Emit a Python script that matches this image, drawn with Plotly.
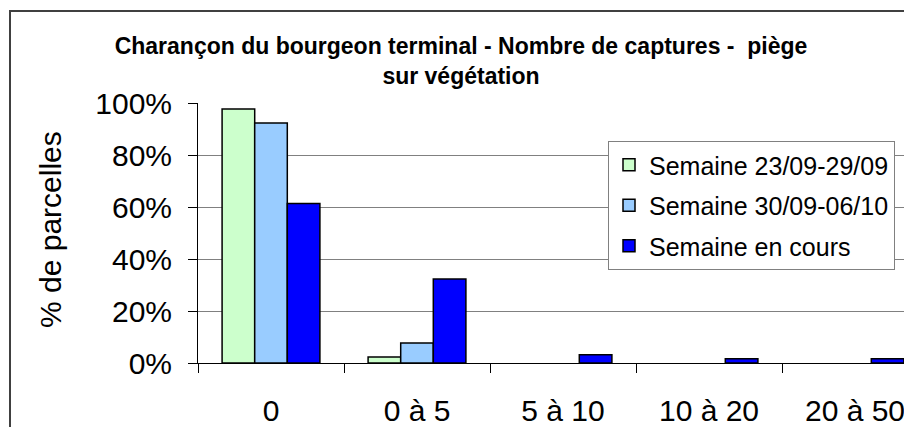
import plotly.graph_objects as go

categories = ["0", "0 à 5", "5 à 10", "10 à 20", "20 à 50"]
series_names = ["Semaine 23/09-29/09", "Semaine 30/09-06/10", "Semaine en cours"]
semaine_1 = [97.7, 2.3, 0, 0, 0]
semaine_2 = [92.3, 7.7, 0, 0, 0]
semaine_en_cours = [61.3, 32.3, 3.2, 1.6, 1.6]
colors = ["#CCFFCC", "#99CCFF", "#0000FF"]
y_ticks = [0, 20, 40, 60, 80, 100]
y_tick_labels = ["0%", "20%", "40%", "60%", "80%", "100%"]

# page is offset by the 8px default body margin
OFF = 8
W, H = 912, 427
L, R, T, B = 198 - OFF, 0, 103 - OFF, H - (363 - OFF)
pw, ph = W - L - R, H - T - B
cat_px = 146.0
x_max = -0.5 + pw / cat_px

def px_to_paper_x(px):
    return (px - OFF - L) / pw

def px_to_paper_y(py):
    return (H - B - (py - OFF)) / ph

FONT = "Arial, Liberation Sans, sans-serif"

fig = go.Figure()
for name, vals, col, grp in zip(series_names, [semaine_1, semaine_2, semaine_en_cours], colors, ["a", "b", "c"]):
    fig.add_trace(go.Bar(
        x=categories, y=vals, name=name, legendgroup=grp,
        marker=dict(color=col, line=dict(color="black", width=[1.5 if v > 0 else 0 for v in vals])),
    ))

fig.update_layout(
    width=W, height=H,
    margin=dict(l=L, r=R, t=T, b=B, autoexpand=False),
    paper_bgcolor="white", plot_bgcolor="white",
    barmode="group", bargap=0.33, bargroupgap=0,
    font=dict(family=FONT, color="black"),
    title=dict(
        text="<b>Charançon du bourgeon terminal - Nombre de captures -  piège<br>sur végétation</b>",
        x=(461 - OFF) / W, xref="container", xanchor="center",
        y=1 - 46 / H, yref="container", yanchor="middle",
        font=dict(size=23, family=FONT, color="black"),
    ),
    xaxis=dict(
        type="category", range=[-0.5, x_max],
        showline=True, linecolor="black", linewidth=1,
        ticks="outside", ticklen=9, tickcolor="black", tickson="boundaries",
        tickfont=dict(size=30, family=FONT), ticklabelstandoff=21,
        showgrid=False, zeroline=False, fixedrange=True,
    ),
    yaxis=dict(
        range=[0, 100], tickvals=y_ticks, ticktext=y_tick_labels,
        showline=True, linecolor="black", linewidth=1,
        ticks="outside", ticklen=9, tickcolor="black",
        tickfont=dict(size=30, family=FONT), ticklabelstandoff=10,
        showgrid=True, gridcolor="#808080", gridwidth=1, zeroline=False,
    ),
    legend=dict(
        x=px_to_paper_x(608), y=px_to_paper_y(141), xanchor="left", yanchor="top",
        bgcolor="white", bordercolor="#808080", borderwidth=1,
        font=dict(size=25, family=FONT), traceorder="grouped", tracegroupgap=5,
    ),
    showlegend=True,
    annotations=[dict(
        text="% de parcelles", textangle=-90, showarrow=False,
        x=px_to_paper_x(50), y=px_to_paper_y(230), xref="paper", yref="paper",
        xanchor="center", yanchor="middle", font=dict(size=30, family=FONT),
    )],
    shapes=[dict(
        type="rect", xref="paper", yref="paper", layer="above",
        x0=px_to_paper_x(10), x1=px_to_paper_x(W + 30),
        y0=px_to_paper_y(H + 30), y1=px_to_paper_y(11),
        line=dict(color="#404040", width=2), fillcolor="rgba(0,0,0,0)",
    )],
)

fig.write_html("out.html")
